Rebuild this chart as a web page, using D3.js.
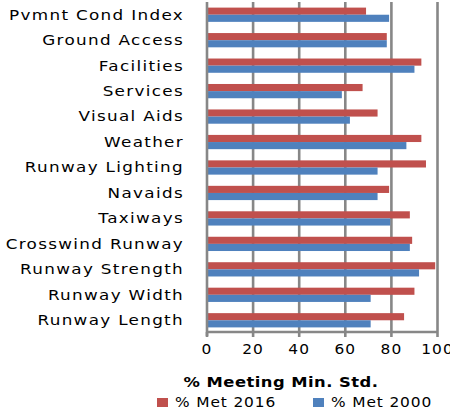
<!DOCTYPE html>
<html>
<head>
<meta charset="utf-8">
<script src="https://cdn.jsdelivr.net/npm/d3@7"></script>
<style>
  body { margin: 0; background: #fff; }
  svg { display: block; font-family: "DejaVu Sans", sans-serif; }
  .cat text { font-size: 14px; letter-spacing: 1.1px; fill: #000; }
  .tick-label { font-size: 14px; letter-spacing: 1px; fill: #000; }
</style>
</head>
<body>
<div id="chart"></div>
<script>
const categories = [
  'Pvmnt Cond Index', 'Ground Access', 'Facilities', 'Services', 'Visual Aids',
  'Weather', 'Runway Lighting', 'Navaids', 'Taxiways', 'Crosswind Runway',
  'Runway Strength', 'Runway Width', 'Runway Length'
];
const met2016 = [69, 78, 93, 67.5, 74, 93, 95, 79, 88, 89, 99, 90, 85.5];
const met2000 = [79, 78, 90, 58.5, 62, 86.5, 74, 74, 79.5, 88, 92, 71, 71];
const xTicks = [0, 20, 40, 60, 80, 100];
const seriesNames = ['% Met 2016', '% Met 2000'];
const colors = ['#C0504D', '#4F81BD'];

const width = 450;
const height = 411;
const margin = { top: 2, right: 12, bottom: 80, left: 207 };

const svg = d3.select('#chart').append('svg')
  .attr('width', width)
  .attr('height', height);

const x = d3.scaleLinear().domain([0, 100]).range([margin.left, 437.5]);
const y = d3.scaleBand().domain(categories)
  .range([margin.top, height - margin.bottom + 2])
  .paddingInner(0.44).paddingOuter(0.22);
const sub = d3.scaleBand().domain([0, 1]).range([0, y.bandwidth()]);

const plotBottom = 332;

// gridlines
svg.append('g').selectAll('line')
  .data(xTicks.slice(1))
  .join('line')
  .attr('x1', (d) => x(d)).attr('x2', (d) => x(d))
  .attr('y1', 2).attr('y2', plotBottom)
  .attr('stroke', '#878787').attr('stroke-width', 2.6);

// bars
const rows = svg.append('g').selectAll('g')
  .data(categories)
  .join('g')
  .attr('transform', (d) => `translate(0,${y(d)})`);

[met2016, met2000].forEach((series, s) => {
  rows.append('rect')
    .attr('x', x(0))
    .attr('y', sub(s))
    .attr('width', (d, i) => x(series[i]) - x(0))
    .attr('height', sub.bandwidth())
    .attr('fill', colors[s]);
});

// category axis
svg.append('line')
  .attr('x1', x(0)).attr('x2', x(0))
  .attr('y1', 2).attr('y2', plotBottom + 4)
  .attr('stroke', '#878787').attr('stroke-width', 2.6);

// labels in the reference are horizontally stretched
const cat = svg.append('g').attr('class', 'cat');
cat.selectAll('text')
  .data(categories)
  .join('text')
  .attr('transform', (d) => `translate(184,${y(d) + y.bandwidth() / 2}) scale(1.2,1)`)
  .attr('dy', '0.35em')
  .attr('text-anchor', 'end')
  .text((d) => d);

// value axis
const axis = svg.append('g');
axis.append('line')
  .attr('x1', x(0)).attr('x2', x(100))
  .attr('y1', plotBottom).attr('y2', plotBottom)
  .attr('stroke', '#878787').attr('stroke-width', 2.6);
axis.selectAll('line.tk')
  .data(xTicks)
  .join('line')
  .attr('class', 'tk')
  .attr('x1', (d) => x(d)).attr('x2', (d) => x(d))
  .attr('y1', plotBottom).attr('y2', plotBottom + 5)
  .attr('stroke', '#878787').attr('stroke-width', 2.6);
axis.selectAll('text')
  .data(xTicks)
  .join('text')
  .attr('class', 'tick-label')
  .attr('transform', (d) => `translate(${x(d)},${plotBottom + 22}) scale(1.1,1)`)
  .attr('text-anchor', 'middle')
  .text((d) => d);

svg.append('text')
  .attr('transform', 'translate(281,387) scale(1.17,1)')
  .attr('text-anchor', 'middle')
  .attr('font-size', 14)
  .attr('font-weight', 'bold')
  .attr('letter-spacing', 0.4)
  .text('% Meeting Min. Std.');

// legend
const legend = svg.append('g').selectAll('g')
  .data(seriesNames)
  .join('g')
  .attr('transform', (d, i) => `translate(${157 + i * 156},398)`);
legend.append('rect')
  .attr('width', 11).attr('height', 9)
  .attr('fill', (d, i) => colors[i]);
legend.append('text')
  .attr('transform', 'translate(18,9) scale(1.1,1)')
  .attr('font-size', 14)
  .attr('letter-spacing', 0.8)
  .text((d) => d);
</script>
</body>
</html>
